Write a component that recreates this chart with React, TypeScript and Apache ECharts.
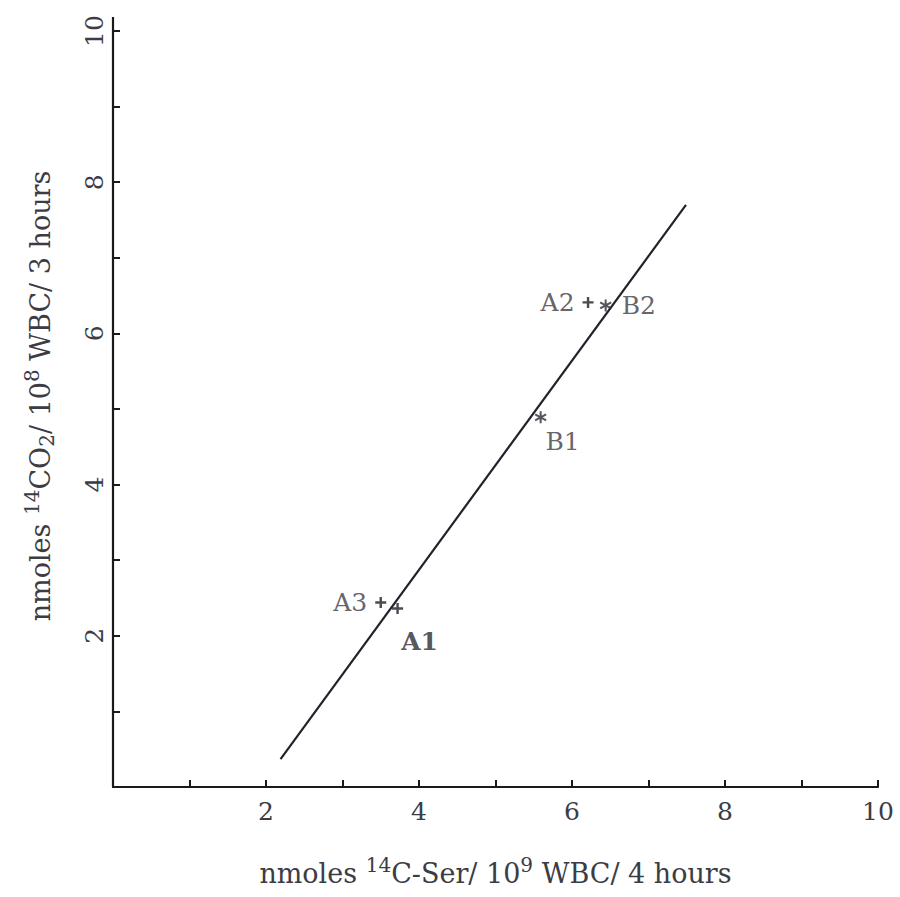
import React, { useEffect, useRef } from "react";
import * as echarts from "echarts";

const aNames = ["A1", "A2", "A3"];
const aX = [3.72, 6.21, 3.5];
const aY = [2.36, 6.41, 2.44];

const bNames = ["B1", "B2"];
const bX = [5.59, 6.44];
const bY = [4.89, 6.37];

const fitX = [2.19, 7.49];
const fitY = [0.37, 7.7];

const tickLabels = [2, 4, 6, 8, 10];

const FONT = "DejaVu Serif";
const INK = "#3c3c44";

const plusPath = "path://M-1.1,-5h2.2v3.9h3.9v2.2h-3.9v3.9h-2.2v-3.9h-3.9v-2.2h3.9z";
const starPath =
  "path://M-0.8,-5L0.8,-5L0.8,5L-0.8,5Z" +
  "M-4.73,-1.81L-3.93,-3.19L4.73,1.81L3.93,3.19Z" +
  "M3.93,-3.19L4.73,-1.81L-3.93,3.19L-4.73,1.81Z";

const labelCfg: Record<string, any> = {
  A1: { position: "inside", offset: [22, 33], fontWeight: "bold", color: "#2a2a32" },
  A2: { position: "left", distance: 8 },
  A3: { position: "left", distance: 8 },
  B1: { position: "inside", offset: [22, 24] },
  B2: { position: "right", distance: 10 },
};

function pts(names: string[], xs: number[], ys: number[]) {
  return names.map((n, i) => ({
    name: n,
    value: [xs[i], ys[i]],
    label: {
      show: true,
      formatter: n,
      fontFamily: FONT,
      fontSize: 25,
      color: INK,
      ...labelCfg[n],
    },
  }));
}

const axisLabelFmt = (v: number) => (tickLabels.indexOf(v) >= 0 ? String(v) : "");

export default function App() {
  const ref = useRef<HTMLDivElement>(null);
  useEffect(() => {
    if (!ref.current) return;
    const chart = echarts.init(ref.current, null, { renderer: "svg" });
    const axisCommon = {
      type: "value" as const,
      min: 0,
      max: 10,
      interval: 1,
      splitLine: { show: false },
      axisLine: { show: true, lineStyle: { color: "#1a1a1a", width: 2.2 } },
      axisTick: { show: true, inside: true, length: 7, lineStyle: { color: "#1a1a1a", width: 2 } },
      axisLabel: {
        formatter: axisLabelFmt,
        fontFamily: FONT,
        fontSize: 25,
        color: INK,
        showMinLabel: false,
      },
      nameLocation: "middle" as const,
      nameTextStyle: {
        fontFamily: FONT,
        fontSize: 27,
        color: INK,
        rich: {
          sup: { fontFamily: FONT, fontSize: 20, color: INK, padding: [0, 0, 16, 0] },
          sub: { fontFamily: FONT, fontSize: 20, color: INK, padding: [14, 0, 0, 0] },
        },
      },
    };
    chart.setOption({
      animation: false,
      backgroundColor: "#ffffff",
      grid: { left: 113, right: 22, top: 31, bottom: 110, containLabel: false },
      xAxis: {
        ...axisCommon,
        name: "nmoles {sup|14}C-Ser/ 10{sup|9} WBC/ 4 hours",
        nameGap: 68,
        axisLabel: { ...axisCommon.axisLabel, margin: 12 },
      },
      yAxis: {
        ...axisCommon,
        name: "nmoles {sup|14}CO{sub|2}/ 10{sup|8} WBC/ 3 hours",
        nameGap: 55,
        nameRotate: 90,
        nameTextStyle: { ...axisCommon.nameTextStyle, padding: [0, 0, 0, 26] },
        axisLabel: { ...axisCommon.axisLabel, rotate: 90, margin: 6 },
      },
      series: [
        {
          type: "line",
          data: fitX.map((x, i) => [x, fitY[i]]),
          symbol: "none",
          lineStyle: { color: "#22222c", width: 2.2 },
          z: 1,
        },
        {
          type: "scatter",
          data: pts(aNames, aX, aY),
          symbol: plusPath,
          symbolSize: 11,
          itemStyle: { color: "#1e1e26" },
          z: 3,
        },
        {
          type: "scatter",
          data: pts(bNames, bX, bY),
          symbol: starPath,
          symbolSize: 12,
          itemStyle: { color: "#2a2a33" },
          z: 3,
        },
      ],
    });
    const top = chart.convertToPixel({ yAxisIndex: 0 }, 10) as number;
    const left = chart.convertToPixel({ xAxisIndex: 0 }, 0) as number;
    chart.setOption({
      graphic: [
        {
          type: "line",
          shape: { x1: left, y1: top, x2: left, y2: top - 14 },
          style: { stroke: "#1a1a1a", lineWidth: 2.2 },
        },
      ],
    });
    return () => chart.dispose();
  }, []);
  return <div ref={ref} style={{ width: 900, height: 897, position: "absolute", left: 0, top: 0 }} />;
}
